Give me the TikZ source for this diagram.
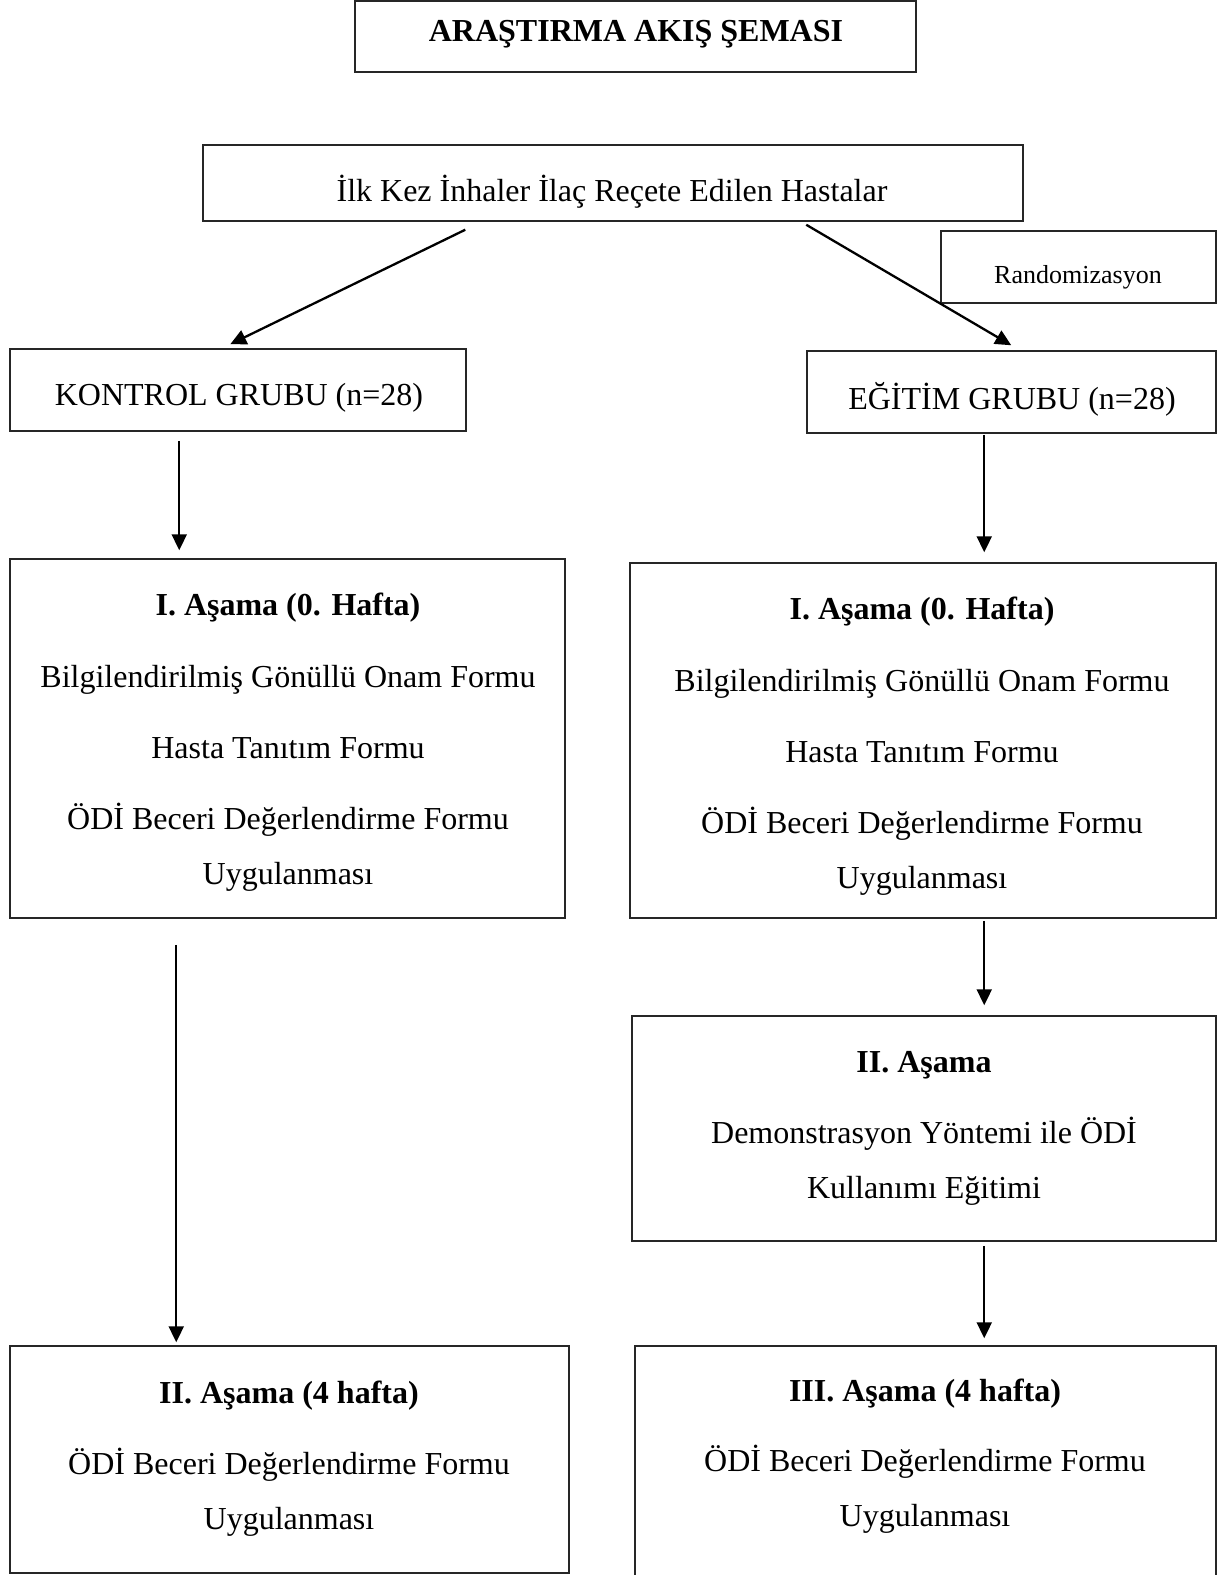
\documentclass[tikz,border=0pt]{standalone}
\usepackage{fontspec}
\setmainfont{Liberation Serif}
\usetikzlibrary{arrows.meta,calc,fit}
\begin{document}
\begin{tikzpicture}[x=0.5pt,y=-0.5pt,
  box/.style={draw=black!85,line width=0.75pt,inner sep=0pt},
  arr/.style={line width=1.15pt,-{Triangle[length=8pt,width=7.5pt]}},
  txt/.style={inner sep=0pt,anchor=base,font=\fontsize{16}{19}\selectfont},
  btxt/.style={txt,font=\fontsize{16}{19}\selectfont\bfseries},
  stxt/.style={inner sep=0pt,anchor=base,font=\fontsize{13}{16}\selectfont}]
\useasboundingbox (0,0) rectangle (1227,1575);
\fill[white] (0,0) rectangle (1227,1575);

% boxes
\node[box,fit={(355,1) (916,72)}] (title) {};
\node[box,fit={(203,145) (1023,221)}] (top) {};
\node[box,fit={(941,231) (1216,303)}] (rand) {};
\node[box,fit={(10,349) (466,431)}] (kontrol) {};
\node[box,fit={(807,351) (1216,433)}] (egitim) {};
\node[box,fit={(10,559) (565,918)}] (leftI) {};
\node[box,fit={(630,563) (1216,918)}] (rightI) {};
\node[box,fit={(632,1016) (1216,1241)}] (rightII) {};
\node[box,fit={(10,1346) (569,1573)}] (leftII) {};
\node[box,fit={(635,1346) (1216,1600)}] (rightIII) {};

% texts
\node[btxt] (titletxt) at (636,41) {ARAŞTIRMA AKIŞ ŞEMASI};
\node[txt] (toptxt) at (612,201) {İlk Kez İnhaler İlaç Reçete Edilen Hastalar};
\node[stxt] (randtxt) at (1078,283) {Randomizasyon};
\node[txt] (kontroltxt) at (239,405) {KONTROL GRUBU (n=28)};
\node[txt] (egitimtxt) at (1012,409) {EĞİTİM GRUBU (n=28)};

\node[btxt] (lI1) at (288,615) {I. Aşama (0. Hafta)};
\node[txt] (lI2) at (288,687) {Bilgilendirilmiş Gönüllü Onam Formu};
\node[txt] (lI3) at (288,758) {Hasta Tanıtım Formu};
\node[txt] (lI4) at (288,829) {ÖDİ Beceri Değerlendirme Formu};
\node[txt] (lI5) at (288,884) {Uygulanması};

\node[btxt] (rI1) at (922,619) {I. Aşama (0. Hafta)};
\node[txt] (rI2) at (922,691) {Bilgilendirilmiş Gönüllü Onam Formu};
\node[txt] (rI3) at (922,762) {Hasta Tanıtım Formu};
\node[txt] (rI4) at (922,833) {ÖDİ Beceri Değerlendirme Formu};
\node[txt] (rI5) at (922,888) {Uygulanması};

\node[btxt] (rII1) at (924,1072) {II. Aşama};
\node[txt] (rII2) at (924,1143) {Demonstrasyon Yöntemi ile ÖDİ};
\node[txt] (rII3) at (924,1198) {Kullanımı Eğitimi};

\node[btxt] (lII1) at (289,1403) {II. Aşama (4 hafta)};
\node[txt] (lII2) at (289,1474) {ÖDİ Beceri Değerlendirme Formu};
\node[txt] (lII3) at (289,1529) {Uygulanması};

\node[btxt] (rIII1) at (925,1401) {III. Aşama (4 hafta)};
\node[txt] (rIII2) at (925,1471) {ÖDİ Beceri Değerlendirme Formu};
\node[txt] (rIII3) at (925,1526) {Uygulanması};

% connectors
\draw[arr] ($(top.south west)+(263,8)$) -- ($(kontrol.north west)+(221,-4)$);
\draw[arr] ($(top.south west)+(604,3)$) -- ($(egitim.north west)+(205,-5)$);
\draw[arr] ($(kontrol.south west)+(170,9)$) -- ($(leftI.north west)+(170,-8)$);
\draw[arr] ($(egitim.south west)+(178,1)$) -- ($(rightI.north west)+(355,-10)$);
\draw[arr] ($(leftI.south west)+(167,26)$) -- ($(leftII.north west)+(167,-3)$);
\draw[arr] ($(rightI.south west)+(355,2)$) -- ($(rightII.north west)+(353,-10)$);
\draw[arr] ($(rightII.south west)+(353,4)$) -- ($(rightIII.north west)+(350,-7)$);
\end{tikzpicture}
\end{document}
